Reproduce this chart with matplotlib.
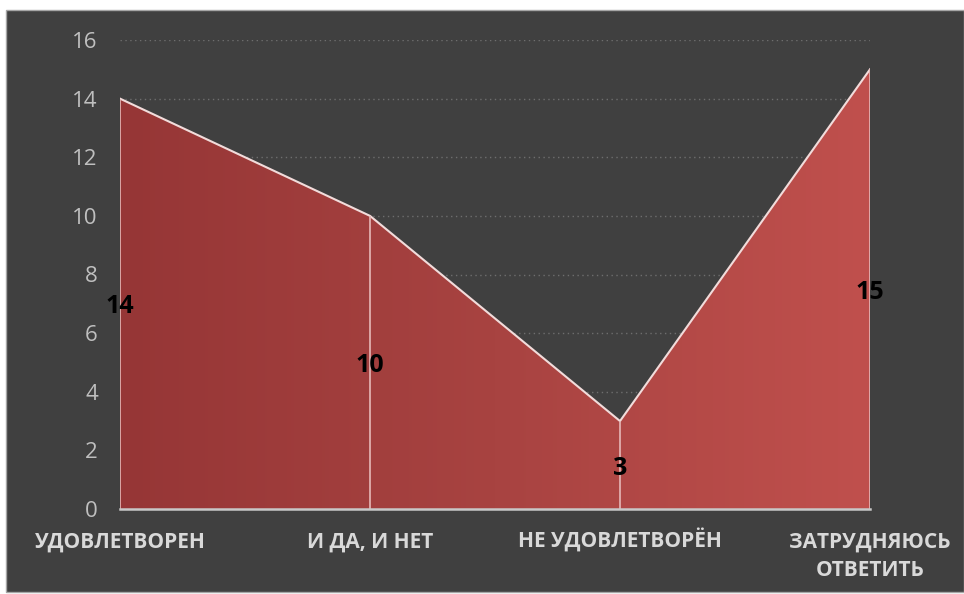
import numpy as np
import matplotlib
matplotlib.use("Agg")
import matplotlib.pyplot as plt
from matplotlib.patches import Polygon, Rectangle
from matplotlib.colors import LinearSegmentedColormap

# data
categories = ["УДОВЛЕТВОРЕН", "И ДА, И НЕТ", "НЕ УДОВЛЕТВОРЁН", "ЗАТРУДНЯЮСЬ\nОТВЕТИТЬ"]
values = [14, 10, 3, 15]
yticks = [0, 2, 4, 6, 8, 10, 12, 14, 16]

plt.rcParams['font.family'] = ['Open Sans', 'DejaVu Sans']

bg = "#404040"
fig = plt.figure(figsize=(9.64, 5.94), dpi=100)
fig.patch.set_facecolor("white")
# dark chart area with thin border
fig.patches.append(Rectangle((6 / 964, 2 / 594), 958 / 964, 582 / 594,
                             transform=fig.transFigure, fc=bg, ec="#a6a6a6",
                             lw=1, zorder=-10))

ax = fig.add_axes([120 / 964, 85 / 594, 750 / 964, 469 / 594])
ax.set_facecolor("none")
x = np.arange(len(values))
ax.set_xlim(0, len(values) - 1)
ax.set_ylim(0, 16)

# dotted gridlines
for t in yticks[1:]:
    ax.axhline(t, color="#6e6e6e", lw=1, ls=(0, (1, 2.5)), zorder=1)

# gradient area clipped to the polygon
verts = [(0, 0)] + list(zip(x, values)) + [(x[-1], 0)]
poly = Polygon(verts, closed=True, fc="none", ec="none")
ax.add_patch(poly)
cmap = LinearSegmentedColormap.from_list("red", ["#963636", "#a84341", "#c0504d"])
grad = np.linspace(0, 1, 256).reshape(1, -1)
im = ax.imshow(grad, cmap=cmap, extent=(0, x[-1], 0, 16), aspect="auto",
               origin="lower", zorder=2)
im.set_clip_path(poly)

# outline on top and drop lines
ax.plot(x, values, color="#f2dcdb", lw=1.5, zorder=3)
ax.vlines(x, 0, values, color="#e6b9b8", lw=1.2, zorder=3)

# baseline
ax.axhline(0, color="#c8c8c8", lw=1.8, zorder=4, clip_on=False)

# value labels at half height
for xi, v in zip(x, values):
    ax.text(xi, v / 2, str(v), ha="center", va="center_baseline", fontsize=18,
            fontweight="bold", color="black", zorder=5)

# category labels, one text per line so baselines line up
for xi, cat in zip(x, categories):
    for k, line in enumerate(cat.split("\n")):
        ax.annotate(line, xy=(xi, 0), xytext=(0, -27.5 - k * 21),
                    textcoords="offset points", ha="center", va="baseline",
                    color="#d9d9d9", fontsize=15, fontweight="bold",
                    annotation_clip=False)

ax.set_yticks(yticks)
ax.set_yticklabels([str(t) for t in yticks], color="#bfbfbf", fontsize=16)
ax.set_xticks(x)
ax.set_xticklabels([])
ax.tick_params(axis="y", length=0, pad=16)
ax.tick_params(axis="x", length=0)
for s in ax.spines.values():
    s.set_visible(False)

fig.savefig("out.png", dpi=100, facecolor=fig.get_facecolor())
